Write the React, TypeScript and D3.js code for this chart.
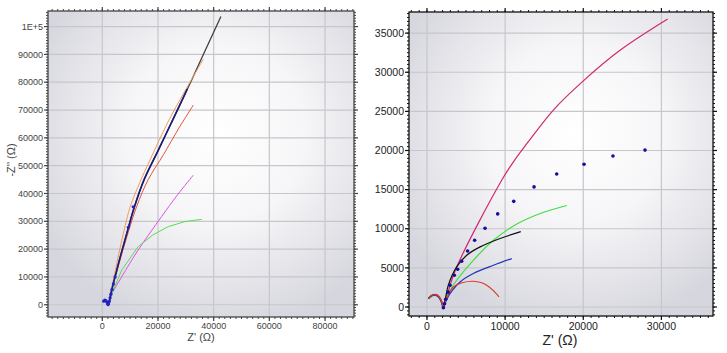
import * as d3 from "d3";

type Pt = [number, number];

// ---- left panel data (Z', -Z'') ----
const leftBlack: Pt[] = [[300, 1100], [900, 1500], [1600, 900], [2100, -200], [2600, 1500], [3300, 5000], [4560, 10100], [7000, 19300], [9300, 27500], [11300, 34500], [15000, 45000], [20100, 55600], [26000, 68000], [32100, 80800], [37000, 91500], [42600, 103600]];
const leftNavy: Pt[] = [[400, 1200], [1000, 1600], [1700, 1000], [2100, -300], [2600, 1400], [3300, 4900], [4560, 10000], [7000, 19200], [9300, 27400], [11300, 34400], [15000, 44900], [20100, 55500], [26000, 67900], [30500, 77500]];
const leftOrange: Pt[] = [[2100, 0], [2900, 4000], [4200, 10000], [6300, 20000], [8000, 27500], [10000, 35200], [13500, 44000], [17100, 52000], [24000, 66500], [31500, 80000], [36300, 88300]];
const leftRed: Pt[] = [[2100, 0], [3000, 4000], [4700, 10000], [7500, 20000], [12300, 35200], [16500, 45000], [22000, 54000], [27500, 63500], [32700, 71800]];
const leftMagenta: Pt[] = [[2100, 0], [3500, 4000], [7000, 10100], [12900, 19700], [21300, 31700], [27000, 39500], [32700, 46600]];
const leftGreen: Pt[] = [[2100, 0], [3950, 5300], [7000, 12500], [12900, 20900], [18000, 25000], [23700, 28100], [29700, 29900], [35700, 30700]];
const leftDots: Pt[] = [[500, 1300], [900, 1700], [1300, 1500], [1700, 900], [2000, 200], [2200, 300], [2500, 1200], [2800, 2500], [3100, 3800], [3500, 5500], [4000, 7500], [4600, 10000], [9340, 27800], [11100, 35200]];

const leftXTicks = [0, 20000, 40000, 60000, 80000];
const leftYTicks = [0, 10000, 20000, 30000, 40000, 50000, 60000, 70000, 80000, 90000, 100000];
const leftYTickLabels = ["0", "10000", "20000", "30000", "40000", "50000", "60000", "70000", "80000", "90000", "1E+5"];

// ---- right panel data ----
const rightMagenta: Pt[] = [[250, 1150], [600, 1500], [1000, 1620], [1400, 1500], [1750, 1050], [1980, 400], [2080, -100], [2600, 1600], [3800, 5100], [9560, 16200], [11300, 18900], [12800, 20900], [16200, 25200], [19900, 28800], [24700, 32800], [30800, 36800]];
const rightBlack: Pt[] = [[200, 1100], [550, 1420], [950, 1540], [1350, 1430], [1700, 1000], [1950, 380], [2060, -120], [2400, 1300], [2730, 2780], [3800, 5120], [5080, 6610], [6800, 7680], [9350, 8750], [12000, 9640]];
const rightGreen: Pt[] = [[300, 1050], [650, 1380], [1050, 1480], [1450, 1360], [1750, 950], [1980, 350], [2100, -100], [2600, 1500], [3800, 3420], [5930, 5970], [8500, 8530], [11500, 10600], [14500, 11950], [17900, 12970]];
const rightBlue: Pt[] = [[180, 1080], [500, 1400], [900, 1520], [1300, 1420], [1650, 1020], [1920, 400], [2040, -150], [2500, 900], [2950, 1710], [4230, 3200], [5930, 4270], [8500, 5330], [10850, 6190]];
const rightRed: Pt[] = [[220, 1120], [580, 1460], [980, 1580], [1380, 1470], [1720, 1040], [1960, 390], [2070, -120], [2600, 1300], [3370, 2560], [4500, 3100], [5930, 3290], [7000, 3100], [7640, 2780], [8500, 2100], [9220, 1280]];
const rightDots: Pt[] = [[2100, -100], [2250, 400], [2400, 1000], [2700, 1900], [2950, 2780], [3500, 4050], [3930, 4820], [4440, 5850], [5200, 7160], [6100, 8530], [7430, 10070], [9050, 11900], [11100, 13500], [13700, 15350], [16600, 17000], [20100, 18250], [23800, 19300], [27900, 20050]];

const rightXTicks = [0, 10000, 20000, 30000];
const rightYTicks = [0, 5000, 10000, 15000, 20000, 25000, 30000, 35000];

const FONT = "'Liberation Sans', Arial, sans-serif";

type Series = { pts: Pt[]; color: string; width: number; smooth?: boolean };

type PanelProps = {
  id: string;
  box: { l: number; t: number; r: number; b: number };
  xDomain: [number, number];
  yDomain: [number, number];
  xTicks: number[];
  yTicks: number[];
  yLabels?: string[];
  xMinor: number;
  yMinor: number;
  series: Series[];
  dots: Pt[];
  dotColor: string;
  dotR: number;
  tickFont: number;
  tickGap: number;
  textColor: string;
  frameColor: string;
  xTitle: { x: number; y: number; size: number };
  yTitle?: { x: number; y: number; size: number };
};

function Panel(p: PanelProps) {
  const { l, t, r, b } = p.box;
  const x = d3.scaleLinear().domain(p.xDomain).range([l, r]);
  const y = d3.scaleLinear().domain(p.yDomain).range([b, t]);
  const mkLine = (smooth: boolean) =>
    d3
      .line<Pt>()
      .x((d) => x(d[0]))
      .y((d) => y(d[1]))
      .curve(smooth ? d3.curveCatmullRom.alpha(0.5) : d3.curveLinear);

  const xMinor = d3.range(Math.ceil(p.xDomain[0] / p.xMinor) * p.xMinor, p.xDomain[1], p.xMinor);
  const yMinor = d3.range(Math.ceil(p.yDomain[0] / p.yMinor) * p.yMinor, p.yDomain[1], p.yMinor);

  return (
    <g>
      <defs>
        <radialGradient id={p.id} cx="55%" cy="40%" r="65%">
          <stop offset="0%" stopColor="#ffffff" />
          <stop offset="45%" stopColor="#f6f6f8" />
          <stop offset="100%" stopColor="#d6d6de" />
        </radialGradient>
        <clipPath id={p.id + "-clip"}>
          <rect x={l} y={t} width={r - l} height={b - t} />
        </clipPath>
      </defs>
      <rect x={l} y={t} width={r - l} height={b - t} fill={`url(#${p.id})`} />
      {/* grid */}
      {p.xTicks.map((v) => (
        <line key={"gx" + v} x1={x(v)} x2={x(v)} y1={t} y2={b} stroke="#c6c6cc" strokeWidth={1.2} />
      ))}
      {p.yTicks.map((v) => (
        <line key={"gy" + v} x1={l} x2={r} y1={y(v)} y2={y(v)} stroke="#c6c6cc" strokeWidth={1.2} />
      ))}
      {/* data */}
      <g clipPath={`url(#${p.id}-clip)`}>
        {p.series.map((s, i) => (
          <path key={i} d={mkLine(s.smooth !== false)(s.pts) ?? ""} fill="none" stroke={s.color} strokeWidth={s.width} strokeLinejoin="round" />
        ))}
        {p.dots.map((d, i) => (
          <circle key={"d" + i} cx={x(d[0])} cy={y(d[1])} r={p.dotR} fill={p.dotColor} />
        ))}
      </g>
      {/* minor ticks */}
      {xMinor.map((v) => (
        <g key={"mx" + v} stroke={p.frameColor} strokeWidth={1}>
          <line x1={x(v)} x2={x(v)} y1={b} y2={b + 2} />
          <line x1={x(v)} x2={x(v)} y1={t} y2={t - 2} />
        </g>
      ))}
      {yMinor.map((v) => (
        <g key={"my" + v} stroke={p.frameColor} strokeWidth={1}>
          <line x1={l} x2={l - 2} y1={y(v)} y2={y(v)} />
          <line x1={r} x2={r + 2} y1={y(v)} y2={y(v)} />
        </g>
      ))}
      {/* major ticks */}
      {p.xTicks.map((v) => (
        <g key={"tx" + v} stroke={p.frameColor} strokeWidth={1.2}>
          <line x1={x(v)} x2={x(v)} y1={b} y2={b + 4} />
          <line x1={x(v)} x2={x(v)} y1={t} y2={t - 4} />
        </g>
      ))}
      {p.yTicks.map((v) => (
        <g key={"ty" + v} stroke={p.frameColor} strokeWidth={1.2}>
          <line x1={l} x2={l - 4} y1={y(v)} y2={y(v)} />
          <line x1={r} x2={r + 4} y1={y(v)} y2={y(v)} />
        </g>
      ))}
      <rect x={l} y={t} width={r - l} height={b - t} fill="none" stroke={p.frameColor} strokeWidth={1.3} />
      {/* tick labels */}
      {p.xTicks.map((v) => (
        <text key={"lx" + v} x={x(v)} y={b + p.tickGap} textAnchor="middle" fontSize={p.tickFont} fill={p.textColor} fontFamily={FONT}>
          {v}
        </text>
      ))}
      {p.yTicks.map((v, i) => (
        <text key={"ly" + v} x={l - 5} y={y(v)} dy="0.35em" textAnchor="end" fontSize={p.tickFont} fill={p.textColor} fontFamily={FONT}>
          {p.yLabels ? p.yLabels[i] : v}
        </text>
      ))}
      <text x={p.xTitle.x} y={p.xTitle.y} textAnchor="middle" fontSize={p.xTitle.size} fill={p.textColor} fontFamily={FONT}>
        Z' (Ω)
      </text>
      {p.yTitle && (
        <text
          transform={`translate(${p.yTitle.x},${p.yTitle.y}) rotate(-90)`}
          textAnchor="middle"
          fontSize={p.yTitle.size}
          fill={p.textColor}
          fontFamily={FONT}
        >
          -Z'' (Ω)
        </text>
      )}
    </g>
  );
}

export default function App() {
  return (
    <svg width={727} height={353} style={{ position: "absolute", left: 0, top: 0, background: "#fff" }}>
      <Panel
        id="gl"
        box={{ l: 48, t: 11, r: 354, b: 317 }}
        xDomain={[-19500, 90400]}
        yDomain={[-4400, 105600]}
        xTicks={leftXTicks}
        yTicks={leftYTicks}
        yLabels={leftYTickLabels}
        xMinor={2000}
        yMinor={1000}
        series={[
          { pts: leftBlack, color: "#404040", width: 1.3 },
          { pts: leftOrange, color: "#f29a5e", width: 1 },
          { pts: leftRed, color: "#e0553a", width: 1 },
          { pts: leftMagenta, color: "#e050e8", width: 1 },
          { pts: leftGreen, color: "#55dd55", width: 1, smooth: false },
          { pts: leftNavy, color: "#1c1c78", width: 1.6 },
        ]}
        dots={leftDots}
        dotColor="#2222cc"
        dotR={1.6}
        tickFont={9}
        tickGap={12}
        textColor="#444"
        frameColor="#444"
        xTitle={{ x: 201, y: 341, size: 11 }}
        yTitle={{ x: 15, y: 160, size: 11 }}
      />
      <Panel
        id="gr"
        box={{ l: 409, t: 12, r: 713, b: 316 }}
        xDomain={[-2300, 36600]}
        yDomain={[-1150, 37700]}
        xTicks={rightXTicks}
        yTicks={rightYTicks}
        xMinor={1000}
        yMinor={500}
        series={[
          { pts: rightMagenta, color: "#d2286e", width: 1.2 },
          { pts: rightGreen, color: "#44dd44", width: 1.2 },
          { pts: rightBlack, color: "#111111", width: 1.2 },
          { pts: rightBlue, color: "#2233bb", width: 1.2 },
          { pts: rightRed, color: "#e03a2a", width: 1.2 },
        ]}
        dots={rightDots}
        dotColor="#10109a"
        dotR={1.8}
        tickFont={10.5}
        tickGap={14}
        textColor="#222"
        frameColor="#111"
        xTitle={{ x: 560, y: 345, size: 14 }}
      />
    </svg>
  );
}
